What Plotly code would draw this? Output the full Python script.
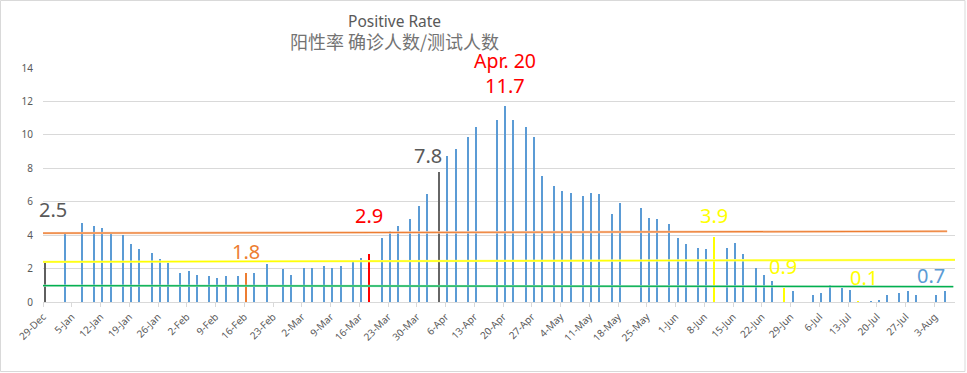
import plotly.graph_objects as go

# ---------------- data ----------------
dec_dates = ["2020-12-29"]
dec_vals = [2.46]
jan_dates = ["2021-01-03", "2021-01-07", "2021-01-10", "2021-01-12", "2021-01-14", "2021-01-17",
             "2021-01-19", "2021-01-21", "2021-01-24", "2021-01-26", "2021-01-28", "2021-01-31"]
jan_vals = [4.12, 4.70, 4.56, 4.44, 4.10, 3.98, 3.50, 3.18, 2.96, 2.58, 2.36, 1.74]
feb_dates = ["2021-02-02", "2021-02-04", "2021-02-07", "2021-02-09", "2021-02-11", "2021-02-14",
             "2021-02-16", "2021-02-18", "2021-02-21", "2021-02-25", "2021-02-27"]
feb_vals = [1.86, 1.60, 1.56, 1.44, 1.56, 1.56, 1.76, 1.74, 2.28, 1.98, 1.62]
mar_dates = ["2021-03-02", "2021-03-04", "2021-03-07", "2021-03-09", "2021-03-11", "2021-03-14",
             "2021-03-16", "2021-03-18", "2021-03-21", "2021-03-23", "2021-03-25", "2021-03-28",
             "2021-03-30"]
mar_vals = [2.04, 2.04, 2.16, 2.04, 2.16, 2.42, 2.64, 2.88, 3.84, 4.26, 4.56, 4.98, 5.76]
apr_dates = ["2021-04-01", "2021-04-04", "2021-04-06", "2021-04-08", "2021-04-11", "2021-04-13",
             "2021-04-18", "2021-04-20", "2021-04-22", "2021-04-25", "2021-04-27", "2021-04-29"]
apr_vals = [6.48, 7.80, 8.76, 9.18, 9.90, 10.50, 10.86, 11.70, 10.86, 10.50, 9.90, 7.56]
may_dates = ["2021-05-02", "2021-05-04", "2021-05-06", "2021-05-09", "2021-05-11", "2021-05-13",
             "2021-05-16", "2021-05-18", "2021-05-23", "2021-05-25", "2021-05-27", "2021-05-30"]
may_vals = [6.96, 6.66, 6.54, 6.36, 6.54, 6.48, 5.28, 5.94, 5.64, 5.04, 4.98, 4.68]
jun_dates = ["2021-06-01", "2021-06-03", "2021-06-06", "2021-06-08", "2021-06-10", "2021-06-13",
             "2021-06-15", "2021-06-17", "2021-06-20", "2021-06-22", "2021-06-24", "2021-06-27",
             "2021-06-29"]
jun_vals = [3.84, 3.48, 3.24, 3.18, 3.88, 3.24, 3.54, 2.88, 2.04, 1.62, 1.26, 0.86, 0.66]
jul_dates = ["2021-07-04", "2021-07-06", "2021-07-08", "2021-07-11", "2021-07-13", "2021-07-15",
             "2021-07-18", "2021-07-20", "2021-07-22", "2021-07-25", "2021-07-27", "2021-07-29"]
jul_vals = [0.42, 0.54, 1.03, 0.84, 0.72, 0.06, 0.06, 0.12, 0.42, 0.54, 0.66, 0.42]
aug_dates = ["2021-08-03", "2021-08-05"]
aug_vals = [0.42, 0.66]

dates = dec_dates + jan_dates + feb_dates + mar_dates + apr_dates + may_dates + jun_dates + jul_dates + aug_dates
values = dec_vals + jan_vals + feb_vals + mar_vals + apr_vals + may_vals + jun_vals + jul_vals + aug_vals

# reference level lines (start / end)
orange_x = ["2020-12-28 08:00", "2021-08-06 02:00"]
orange_y = [4.12, 4.23]
yellow_x = ["2020-12-28 08:00", "2021-08-09 14:00"]
yellow_y = [2.40, 2.52]
green_x = ["2020-12-28 08:00", "2021-08-07 14:00"]
green_y = [0.98, 0.92]

# labels
label_texts = ["2.5", "1.8", "2.9", "7.8", "Apr. 20", "11.7", "3.9", "0.9", "0.1", "0.7"]
label_x = ["2020-12-31 09:00", "2021-02-16 08:00", "2021-03-18 10:00", "2021-04-01 19:00",
           "2021-04-20 10:00", "2021-04-20 10:00", "2021-06-10 06:00", "2021-06-27 05:00",
           "2021-07-16 22:00", "2021-08-02 03:00"]
label_y = [5.53, 3.04, 5.16, 8.79, 14.45, 12.94, 5.16, 2.14, 1.47, 1.57]

title_en = "Positive Rate"
title_zh = "阳性率 确诊人数/测试人数"

y_ticks = [0, 2, 4, 6, 8, 10, 12, 14]
Y_MAX = 14

# ---------------- styles ----------------
BLUE = "#5B9BD5"
highlight = {
    "2020-12-29": "#5f5f5f",
    "2021-02-16": "#ED7D31",
    "2021-03-18": "#FF0000",
    "2021-04-04": "#666666",
    "2021-06-10": "#FFFF00",
    "2021-06-27": "#FFFF00",
    "2021-07-15": "#FFFF00",
}
bar_colors = [highlight.get(d, BLUE) for d in dates]
label_colors = ["#595959", "#ED7D31", "#FF0000", "#595959", "#FF0000", "#FF0000",
                "#FFFF00", "#FFFF00", "#FFFF00", "#5B9BD5"]
label_sizes = [20, 20, 20, 20, 19.5, 20, 20, 20, 20, 20]

FONT = "Noto Sans, Open Sans, DejaVu Sans, sans-serif"
DAY = 86400000

fig = go.Figure()
fig.add_trace(go.Bar(
    x=dates, y=values,
    xperiod=DAY, xperiodalignment="middle",
    width=0.34 * DAY,
    marker=dict(color=bar_colors, line=dict(width=0)),
    showlegend=False,
))

for xs, ys, under, over in [
    (orange_x, orange_y, "#F8CBAD", "#ED7D31"),
    (yellow_x, yellow_y, "#FFFF80", "#FFFF00"),
    (green_x, green_y, "#A9DFBF", "#00B050"),
]:
    fig.add_trace(go.Scatter(x=xs, y=ys, mode="lines", line=dict(color=under, width=2.4),
                             showlegend=False, hoverinfo="skip"))
    fig.add_trace(go.Scatter(x=xs, y=ys, mode="lines", line=dict(color=over, width=1.1),
                             showlegend=False, hoverinfo="skip"))

for t, lx, ly, c, s in zip(label_texts, label_x, label_y, label_colors, label_sizes):
    fig.add_annotation(x=lx, y=ly / Y_MAX, xref="x", yref="y domain", text=t, showarrow=False,
                       xanchor="center", yanchor="middle", borderpad=0,
                       font=dict(family=FONT, size=s, color=c))

# title (two lines in one text block)
L, R, T, B = 43, 12, 68, 71
PW, PH = 967 - L - R, 373 - T - B


def px_to_paper_x(px):
    return (px - L) / PW


def px_to_paper_y(py):
    return (373 - B - py) / PH


title_html = (
    f"<span style='font-size:15.5px;color:#595959'>{title_en}</span><br>"
    f"<span style='font-size:18px;color:#737373;font-family:Noto Sans CJK SC'>{title_zh}</span>"
)
fig.add_annotation(x=px_to_paper_x(394.3), y=px_to_paper_y(32.3), xref="paper", yref="paper",
                   text=title_html, showarrow=False, xanchor="center", yanchor="middle",
                   align="center", borderpad=0,
                   font=dict(family="Noto Sans, Noto Sans CJK SC, sans-serif", size=17.3, color="#595959"))

# chart frame
fig.add_shape(type="rect", xref="paper", yref="paper",
              x0=px_to_paper_x(0.5), x1=px_to_paper_x(965), y0=px_to_paper_y(371.5), y1=px_to_paper_y(0.5),
              line=dict(color="#D9D9D9", width=1), fillcolor="rgba(0,0,0,0)", layer="below")

fig.update_layout(
    width=967, height=373,
    margin=dict(l=L, r=R, t=T, b=B, pad=0),
    paper_bgcolor="white", plot_bgcolor="white",
    bargap=0,
    font=dict(family=FONT, color="#595959"),
    xaxis=dict(
        type="date",
        range=["2020-12-29", "2021-08-08"],
        tick0="2020-12-29", dtick=7 * DAY, tickformat="%-d-%b",
        tickangle=-45, ticks="outside", ticklen=4, tickcolor="#D9D9D9",
        showgrid=False, showline=True, linecolor="#D9D9D9", linewidth=1,
        tickfont=dict(size=10, color="#595959"),
        zeroline=False,
    ),
    yaxis=dict(
        range=[0, Y_MAX], tickvals=y_ticks,
        showgrid=True, gridcolor="#D9D9D9", gridwidth=1,
        zeroline=False, showline=False, ticks="",
        ticklabelstandoff=9,
        tickfont=dict(size=10, color="#595959"),
    ),
)

fig.write_html("out.html", config={"displayModeBar": False},
               post_script="document.body.style.margin='0px';")
